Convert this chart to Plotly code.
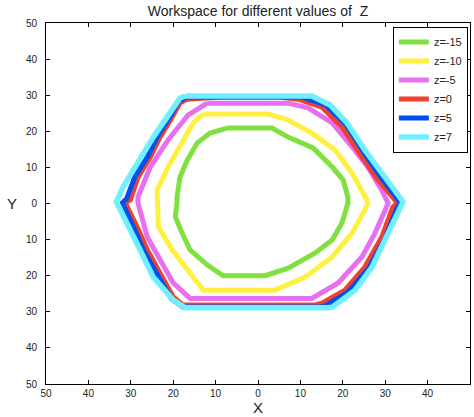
import plotly.graph_objects as go

# ---- data (x, y in plot units) ----
labels = ["z=-15", "z=-10", "z=-5", "z=0", "z=5", "z=7"]
colors = ["#80E040", "#FFF040", "#E870F0", "#F04030", "#0050F0", "#70F0FF"]

x_zm15 = [-7.3, 3.3, 7.1, 13.0, 17.5, 20.1, 21.2, 21.2, 19.8, 17.5, 13.5, 7.1, 1.7, -8.2,
          -12.0, -16.0, -17.9, -19.5, -19.1, -19.1, -18.4, -16.7, -14.3, -11.3]
y_zm15 = [20.9, 20.9, 18.4, 15.4, 10.1, 6.5, 1.8, 0.1, -5.4, -10.1, -13.7, -17.9, -20.0, -20.0,
          -17.0, -12.9, -8.2, -3.7, 0.1, 1.8, 7.3, 12.0, 16.8, 19.5]

x_zm10 = [-12.9, 2.4, 7.1, 12.7, 18.2, 22.2, 25.7, 25.9, 25.2, 22.2, 17.5, 11.1, 4.0, -12.9,
          -16.0, -20.2, -23.5, -23.8, -23.8, -21.2, -17.9, -15.3]
y_zm10 = [24.8, 24.8, 23.1, 19.5, 14.8, 8.4, 1.0, 0.1, -1.8, -8.2, -14.8, -20.4, -24.0, -24.0,
          -19.3, -12.9, -6.5, 0.1, 3.7, 10.1, 16.8, 22.3]

x_zm5 = [-12.0, 7.1, 11.8, 17.5, 22.2, 25.9, 29.2, 30.7, 30.0, 27.6, 24.5, 18.9, 12.7, -16.0,
         -20.0, -23.1, -26.1, -28.3, -28.3, -25.4, -21.2, -16.5]
y_zm5 = [27.8, 27.8, 26.5, 22.3, 15.7, 10.1, 3.7, 0.1, -1.8, -8.2, -14.8, -22.0, -26.3, -26.3,
         -22.0, -15.7, -9.3, 0.1, 1.8, 10.1, 17.6, 24.5]

x_z0 = [-16.7, -9.0, 5.0, 9.5, 15.1, 19.8, 24.5, 28.3, 32.3, 32.8, 31.8, 29.2, 25.2, 20.5, 15.1, 13.5,
        -17.7, -20.0, -23.1, -26.1, -28.5, -31.3, -30.1, -28.3, -25.4, -23.1, -20.2, -18.4]
y_z0 = [28.9, 29.5, 29.5, 28.9, 26.7, 21.2, 12.9, 6.5, 1.0, 0.1, -1.0, -9.3, -17.6, -24.0, -27.6, -28.1,
        -28.1, -25.9, -19.3, -12.9, -6.5, 0.2, 1.0, 7.3, 12.9, 18.4, 24.0, 27.8]

x_z5 = [-17.0, 10.5, 16.0, 20.8, 25.4, 29.2, 33.0, 33.6, 32.8, 30.0, 26.1, 21.3, 16.0, 14.5,
        -17.7, -20.4, -23.8, -26.9, -29.3, -32.0, -31.0, -29.0, -26.0, -23.7, -20.7, -18.8]
y_z5 = [29.5, 29.5, 27.3, 21.8, 13.4, 6.9, 1.2, 0.2, -1.2, -9.6, -18.0, -24.5, -28.3, -28.7,
        -28.7, -26.4, -19.6, -13.2, -6.7, 0.2, 1.3, 7.5, 13.1, 18.6, 24.2, 28.2]

x_z7 = [-17.2, 12.7, 17.0, 21.0, 25.2, 29.2, 34.2, 30.7, 26.9, 22.9, 17.5, 16.3, -17.2,
        -20.0, -24.7, -27.8, -30.6, -33.4, -31.8, -28.5, -24.7, -21.4, -18.4]
y_z7 = [29.8, 29.8, 27.3, 22.3, 14.8, 8.4, 0.5, -8.2, -17.6, -24.0, -28.7, -28.9, -28.9,
        -26.7, -20.4, -12.9, -6.5, 0.5, 4.6, 11.2, 18.4, 24.0, 29.2]

xs = [x_zm15, x_zm10, x_zm5, x_z0, x_z5, x_z7]
ys = [y_zm15, y_zm10, y_zm5, y_z0, y_z5, y_z7]

tick_vals = [-50, -40, -30, -20, -10, 0, 10, 20, 30, 40, 50]
tick_text = ["50", "40", "30", "20", "10", "0", "10", "20", "30", "40", "50"]

font_family = "Liberation Sans, Arial, Helvetica, sans-serif"

fig = go.Figure()
for lab, col, xv, yv in zip(labels, colors, xs, ys):
    fig.add_trace(go.Scatter(
        x=xv + xv[:1], y=yv + yv[:1], mode="lines", name=lab,
        line=dict(color=col, width=5.5 if lab == "z=7" else 5),
    ))

axis_common = dict(
    range=[-50, 50], tickmode="array", tickvals=tick_vals, ticktext=tick_text,
    showgrid=False, zeroline=False, showline=True, linecolor="black", linewidth=1,
    mirror="ticks", ticks="inside", ticklen=4, tickcolor="black",
    tickfont=dict(family=font_family, size=10, color="#222"),
)

fig.update_layout(
    width=474, height=417,
    margin=dict(l=46, r=4, t=23, b=33),
    paper_bgcolor="white", plot_bgcolor="white",
    font=dict(family=font_family, color="#222"),
    title=dict(text="Workspace for different values of \u00a0Z", x=0.5, xref="paper",
               y=1 - 11 / 417, yref="container", yanchor="middle", xanchor="center",
               font=dict(size=14, family=font_family, color="#222")),
    xaxis=dict(axis_common),
    yaxis=dict(axis_common, ticklabelstandoff=6),
    legend=dict(x=0.995, y=0.99, xanchor="right", yanchor="top",
                bgcolor="white", bordercolor="black", borderwidth=1,
                font=dict(size=11, family=font_family, color="#222"),
                itemwidth=30, tracegroupgap=0),
    showlegend=True,
    annotations=[
        dict(text="X", xref="paper", yref="paper", x=0.5, y=-0.066, showarrow=False,
             xanchor="center", yanchor="middle", font=dict(size=15, family=font_family, color="#222")),
        dict(text="Y", xref="paper", yref="paper", x=-0.08, y=0.5, showarrow=False,
             xanchor="center", yanchor="middle", font=dict(size=15, family=font_family, color="#222")),
    ],
)

fig.write_html("out.html", config={"displayModeBar": False},
               post_script="document.body.style.margin='0';")
